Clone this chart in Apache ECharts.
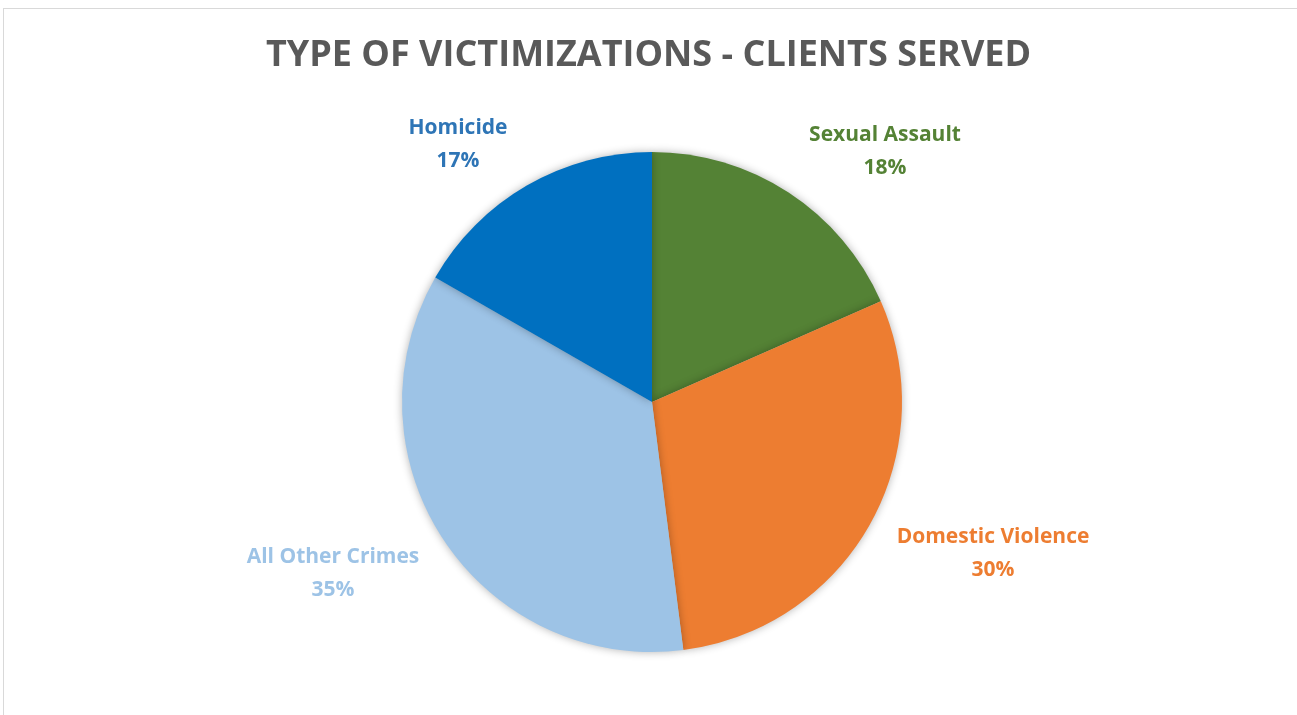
<!DOCTYPE html>
<html>
<head>
<meta charset="utf-8">
<script src="https://cdn.jsdelivr.net/npm/echarts@6/dist/echarts.min.js"></script>
<style>
  html, body { margin: 0; padding: 0; background: #fff; }
  #frame {
    position: absolute; left: 3px; top: 8px; width: 1400px; height: 800px;
    border-left: 1px solid #d9d9d9; border-top: 1px solid #d9d9d9;
  }
  #chart { position: absolute; left: 0; top: 0; width: 1297px; height: 715px; }
</style>
</head>
<body>
<div id="frame"></div>
<div id="chart"></div>
<script>
const categories = ["Sexual Assault", "Domestic Violence", "All Other Crimes", "Homicide"];
const shares = [18.4, 29.6, 35.3, 16.7];
const colors = ["#548235", "#ED7D31", "#9DC3E6", "#0070C0"];
const labelColors = ["#548235", "#ED7D31", "#9DC3E6", "#2E75B6"];
const titleText = "TYPE OF VICTIMIZATIONS - CLIENTS SERVED";

// label block centres, relative to the pie centre (Excel "best fit" placement)
const pieCenter = [652, 402];
const labelOffsets = [[233, -250], [341, 152], [-319, 172], [-194, -257]];

const font = "'Open Sans', Calibri, sans-serif";
const chart = echarts.init(document.getElementById("chart"), null, { renderer: "canvas" });

chart.setOption({
  animation: false,
  title: {
    text: titleText,
    left: "center",
    top: 33,
    textStyle: { color: "#595959", fontSize: 36, fontWeight: "bold", fontFamily: font },
  },
  series: [{
    type: "pie",
    center: pieCenter,
    radius: 250,
    startAngle: 90,
    clockwise: true,
    data: categories.map((name, i) => ({
      name,
      value: shares[i],
      itemStyle: { color: colors[i] },
      label: { color: labelColors[i] },
    })),
    itemStyle: { shadowBlur: 8, shadowColor: "rgba(0,0,0,0.3)" },
    label: {
      show: true,
      position: "outside",
      formatter: (p) => `${p.name}\n${Math.round(p.percent)}%`,
      fontFamily: font,
      fontSize: 21,
      fontWeight: "bold",
      lineHeight: 33,
    },
    labelLine: { show: false },
    labelLayout: (p) => ({
      x: pieCenter[0] + labelOffsets[p.dataIndex][0],
      y: pieCenter[1] + labelOffsets[p.dataIndex][1],
      align: "center",
      verticalAlign: "middle",
    }),
    emphasis: { disabled: true },
  }],
});
</script>
</body>
</html>
